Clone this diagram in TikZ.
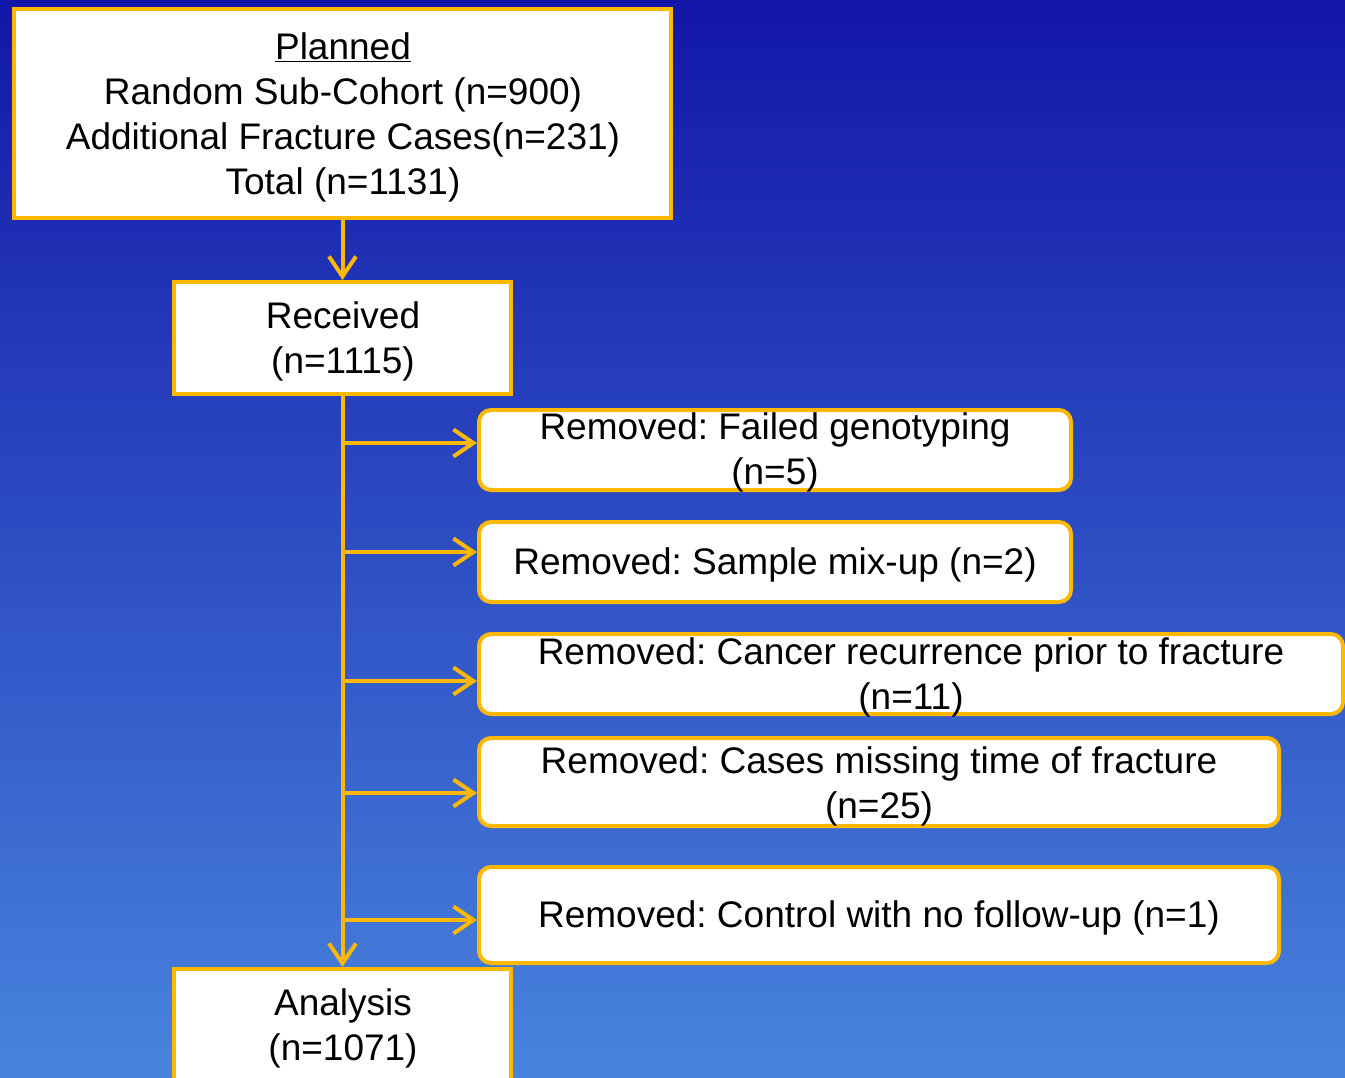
\documentclass[tikz,border=0pt]{standalone}
\usepackage{fontspec}
\setmainfont{Liberation Sans}
\usetikzlibrary{arrows.meta}
\definecolor{bgtop}{RGB}{18,22,168}
\definecolor{bgbot}{RGB}{72,132,222}
\definecolor{gold}{RGB}{255,184,0}
\frenchspacing
\begin{document}
\begin{tikzpicture}[x=1pt,y=1pt,
  txt/.style={font=\fontsize{37}{45}\selectfont, align=center, text=black, inner sep=0pt},
  sqbox/.style={draw=gold, line width=4pt, fill=white, inner sep=0pt},
  rbox/.style={draw=gold, line width=4pt, fill=white, rounded corners=12pt, inner sep=0pt},
  link/.style={draw=gold, line width=4pt, -{Straight Barb[length=20pt,width=27pt,line width=4pt]}},
  trunk/.style={draw=gold, line width=4pt}]
\useasboundingbox (0,0) rectangle (1345,-1078);
\clip (0,0) rectangle (1345,-1078);
\shade[top color=bgtop, bottom color=bgbot] (0,0) rectangle (1345,-1078);
% boxes
\node[sqbox, minimum width=657pt, minimum height=209pt, anchor=north west] (planned) at (12,-7) {};
\node[txt] (plannedt) at (343,-117.5) {\underline{Planned}\\Random Sub-Cohort (n=900)\\Additional Fracture Cases(n=231)\\Total (n=1131)};
\node[sqbox, minimum width=337pt, minimum height=112pt, anchor=north west] (received) at (172,-280) {};
\node[txt] (receivedt) at (343,-341) {Received\\(n=1115)};
\node[rbox, minimum width=592pt, minimum height=80pt, anchor=north west] (b1) at (477,-408) {};
\node[txt] (b1t) at (775,-452.5) {Removed: Failed genotyping\\(n=5)};
\node[rbox, minimum width=592pt, minimum height=80pt, anchor=north west] (b2) at (477,-520) {};
\node[txt] (b2t) at (775,-565) {Removed: Sample mix-up (n=2)};
\node[rbox, minimum width=864pt, minimum height=80pt, anchor=north west] (b3) at (477,-632) {};
\node[txt] (b3t) at (911,-677) {Removed: Cancer recurrence prior to fracture\\(n=11)};
\node[rbox, minimum width=800pt, minimum height=88pt, anchor=north west] (b4) at (477,-736) {};
\node[txt] (b4t) at (879,-786) {Removed: Cases missing time of fracture\\(n=25)};
\node[rbox, minimum width=800pt, minimum height=96pt, anchor=north west] (b5) at (477,-865) {};
\node[txt] (b5t) at (879,-918) {Removed: Control with no follow-up (n=1)};
\node[sqbox, minimum width=337pt, minimum height=160pt, anchor=north west] (analysis) at (172,-967) {};
\node[txt] (analysist) at (343,-1028.5) {Analysis\\(n=1071)};
% connectors
\draw[link] (planned.south -| received.north) -- (received.north);
\draw[link] (received.south) -- (analysis.north);
\coordinate (j1) at (343,-443);
\coordinate (j2) at (343,-552);
\coordinate (j3) at (343,-681);
\coordinate (j4) at (343,-793);
\coordinate (j5) at (343,-920);
\draw[link] (j1) -- (j1 -| b1.west);
\draw[link] (j2) -- (j2 -| b2.west);
\draw[link] (j3) -- (j3 -| b3.west);
\draw[link] (j4) -- (j4 -| b4.west);
\draw[link] (j5) -- (j5 -| b5.west);
\end{tikzpicture}
\end{document}
